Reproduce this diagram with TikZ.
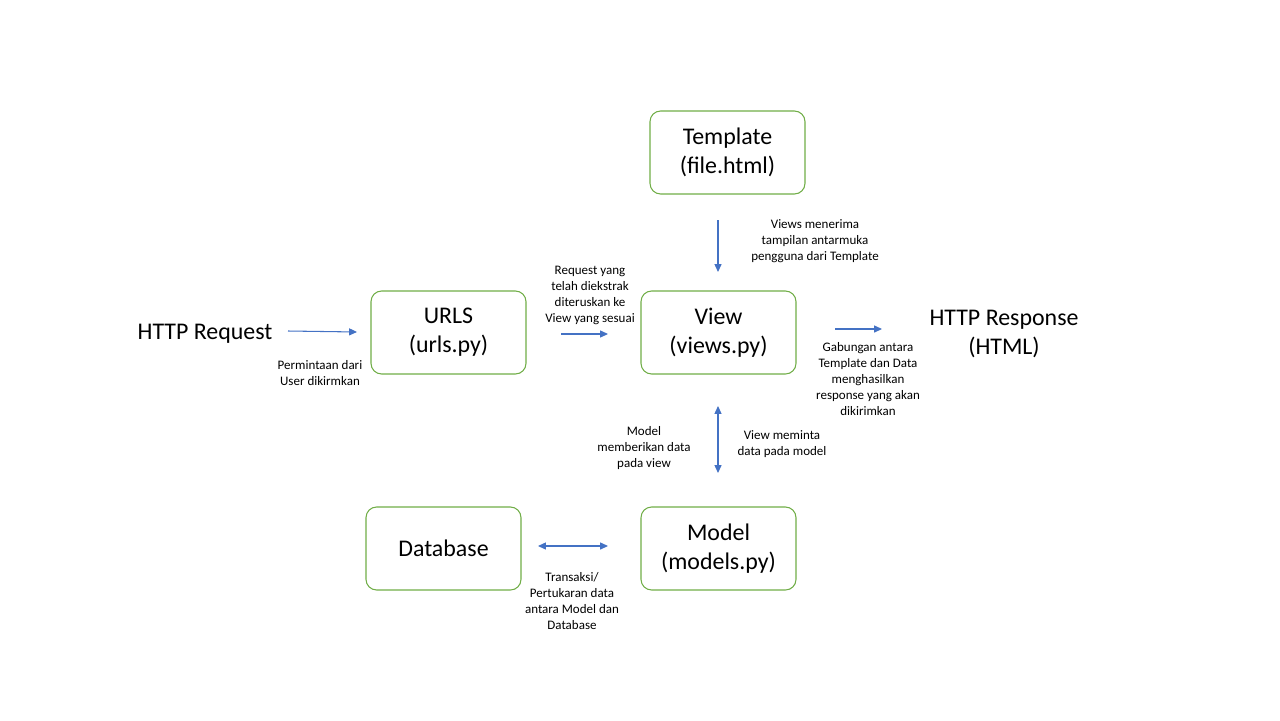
\documentclass[tikz,border=0pt]{standalone}
\usepackage{fontspec}
\setmainfont{Carlito}
\usetikzlibrary{arrows.meta, positioning}
\definecolor{clrBorder}{HTML}{70AD47}
\definecolor{clrArrow}{HTML}{4472C4}
\tikzset{
  block/.style = {rectangle, rounded corners=6pt, minimum width=3.1cm, minimum height=1.66cm,
                  align=center, font=\fontsize{13.6}{16.5}\selectfont, draw=clrBorder, line width=0.6pt},
  plain/.style = {align=center, font=\fontsize{13.6}{16.5}\selectfont},
  note/.style = {align=center, font=\fontsize{7.4}{9.1}\selectfont},
  arrow/.style = {-{Triangle[length=4.5pt, width=4pt]}, color=clrArrow, line width=0.6pt},
  darrow/.style = {{Triangle[length=4.5pt, width=4pt]}-{Triangle[length=4.5pt, width=4pt]}, color=clrArrow, line width=0.6pt},
}

\begin{document}
\begin{tikzpicture}[x=0.02cm, y=-0.02cm]
\useasboundingbox (0,0) rectangle (1280,720);

% Boxes
\node[block] (template) at (727.5,152.5) {Template\\(file.html)};
\node[block] (urls)     at (448.5,332.5) {URLS\\(urls.py)};
\node[block] (view)     at (718.5,332.5) {View\\(views.py)};
\node[block] (database) at (443.5,548.5) {Database};
\node[block] (model)    at (718.5,548.5) {Model\\(models.py)};

% Request / response
\node[plain] (request)  at (205,334)  {HTTP Request};
\node[plain] (response) at (1004,334) {HTTP Response\\(HTML)};

% Arrow ends
\coordinate (reqA)  at (288,331);
\coordinate (reqB)  at (357,332);
\coordinate (fwdA)  at (561,334);
\coordinate (fwdB)  at (608,334);
\coordinate (tplA)  at (718,220);
\coordinate (tplB)  at (718,272);
\coordinate (resA)  at (835,329);
\coordinate (resB)  at (882,329);
\coordinate (mdlA)  at (718,406);
\coordinate (mdlB)  at (718,473);
\coordinate (dbA)   at (538,546);
\coordinate (dbB)   at (608,546);

\draw[arrow]  (reqA) -- (reqB);
\draw[arrow]  (fwdA) -- (fwdB);
\draw[arrow]  (tplA) -- (tplB);
\draw[arrow]  (resA) -- (resB);
\draw[darrow] (mdlA) -- (mdlB);
\draw[darrow] (dbA) -- (dbB);

% Labels
\node[note] (lblReq) at (320,373) {Permintaan dari\\User dikirmkan};
\node[note] (lblFwd) at (590,295) {Request yang\\telah diekstrak\\diteruskan ke\\View yang sesuai};
\node[note] (lblTpl) at (815,241) {Views menerima\\tampilan antarmuka\\pengguna  dari Template};
\node[note] (lblRes) at (868,379) {Gabungan antara\\Template dan Data\\menghasilkan\\response yang akan\\dikirimkan};
\node[note] (lblMdl) at (644,448) {Model\\memberikan  data\\pada view};
\node[note] (lblAsk) at (782,444) {View meminta\\data pada model};
\node[note] (lblDb)  at (572,601) {Transaksi/\\Pertukaran data\\antara Model dan\\Database};
\end{tikzpicture}
\end{document}
